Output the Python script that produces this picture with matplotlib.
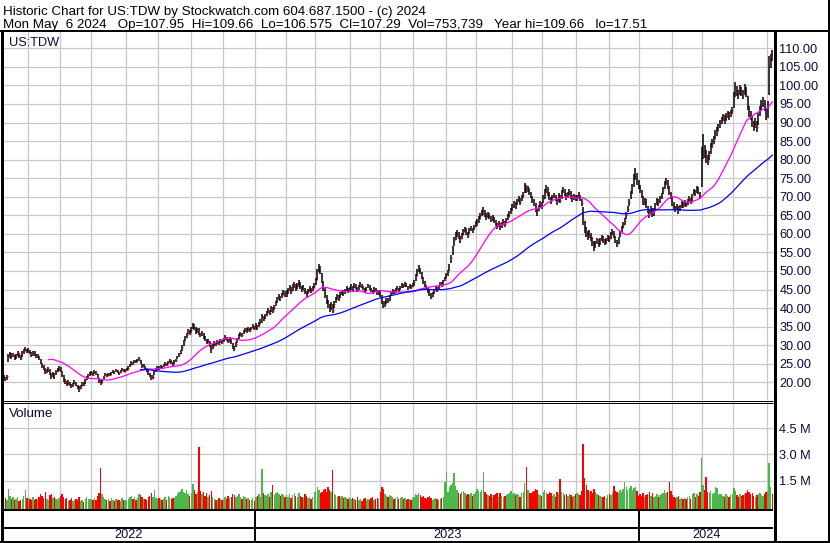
import matplotlib
matplotlib.use("Agg")
import matplotlib.pyplot as plt
from matplotlib.lines import Line2D
import numpy as np
import pandas as pd

plt.rcParams['font.family'] = ['Liberation Sans', 'DejaVu Sans']

# trading days shown: 9 May 2022 .. 6 May 2024 (NYSE holidays removed)
start_day = "2022-05-09"
end_day = "2024-05-06"
holidays = ["2022-05-30", "2022-06-20", "2022-07-04", "2022-09-05", "2022-11-24",
            "2022-12-26", "2023-01-02", "2023-01-16", "2023-02-20", "2023-04-07",
            "2023-05-29", "2023-06-19", "2023-07-04", "2023-09-04", "2023-11-23",
            "2023-12-25", "2024-01-01", "2024-01-15", "2024-02-19", "2024-03-29"]

# daily closes, one line per month
closes = [
    21.2, 20.8, 21.6, 26.8, 27.4, 26.9, 27.6, 26.5, 27.2, 27.8, 27.0, 26.6, 27.9, 28.4, 29.0, 28.1,
    28.6, 27.9, 27.3, 28.0, 27.5, 26.8, 27.2, 26.4, 25.1, 24.3, 23.8, 22.6, 23.1, 23.6, 22.4, 21.3, 22.5, 21.6, 22.8, 23.4, 23.9,
    23.1, 21.8, 20.6, 20.1, 19.5, 20.2, 19.3, 18.9, 19.6, 20.3, 19.1, 18.6, 18.2, 19.0, 19.8, 19.4, 20.5, 21.3, 21.9, 22.4,
    22.6, 22.1, 22.9, 22.4, 21.3, 20.2, 19.8, 20.6, 21.5, 22.0, 21.7, 22.3, 21.9, 22.5, 23.0, 22.6, 23.2, 22.8, 22.4, 23.1, 23.5, 22.9, 23.3,
    23.4, 23.9, 24.6, 25.3, 25.0, 25.8, 25.4, 26.0, 26.3, 25.2, 24.1, 24.5, 23.6, 23.2, 22.4, 21.8, 21.0, 21.4, 22.8, 23.5, 23.9,
    23.8, 24.2, 23.9, 24.6, 25.1, 24.7, 25.5, 25.9, 25.3, 24.8, 25.6, 26.0, 26.8, 27.5, 28.1, 29.6, 30.8, 31.9, 32.8, 33.6, 33.1,
    34.2, 35.4, 34.8, 33.5, 34.1, 33.2, 32.6, 33.4, 32.1, 31.5, 30.6, 31.2, 30.0, 29.1, 29.8, 30.7, 30.2, 31.1, 30.4, 31.3, 30.8,
    31.5, 32.2, 31.6, 30.9, 31.8, 30.6, 29.5, 29.2, 30.4, 31.6, 32.5, 33.1, 32.7, 33.6, 34.2, 33.8, 34.5, 33.9, 34.6, 35.1, 34.4,
    35.2, 34.6, 35.8, 36.5, 37.3, 37.0, 37.9, 38.6, 39.4, 38.8, 40.1, 39.3, 40.4, 41.6, 42.5, 43.1, 42.4, 43.6, 44.2, 43.5,
    44.0, 44.8, 45.5, 44.6, 45.9, 46.4, 45.2, 46.1, 46.9, 45.8, 44.9, 45.6, 44.3, 43.8, 44.6, 45.3, 44.7, 45.4, 46.2,
    47.5, 49.8, 51.2, 49.6, 47.3, 45.1, 43.2, 42.0, 40.6, 39.8, 40.9, 39.5, 41.2, 42.4, 43.1, 42.6, 43.8, 44.5, 43.9, 44.8, 45.3, 44.6, 45.2,
    45.8, 45.1, 46.2, 45.6, 44.9, 45.7, 46.4, 45.9, 45.2, 44.6, 45.3, 46.0, 45.4, 44.8, 44.2, 45.1, 44.5, 43.9, 44.4,
    43.2, 41.6, 40.4, 41.2, 42.3, 41.8, 43.1, 43.9, 44.6, 44.1, 44.9, 45.3, 44.7, 45.6, 46.2, 45.7, 46.5, 45.9, 45.4, 46.1, 45.6, 46.3,
    47.1, 48.6, 49.9, 50.8, 49.5, 48.2, 47.0, 46.1, 45.3, 44.6, 43.8, 43.1, 43.9, 44.7, 45.5, 44.9, 45.8, 46.6, 46.1, 47.2, 48.0,
    48.8, 49.6, 51.2, 53.5, 55.8, 58.4, 59.6, 60.3, 59.1, 58.5, 59.8, 60.6, 61.2, 60.4, 59.7, 60.9, 61.5, 60.8, 61.9, 62.6,
    63.2, 64.1, 64.9, 65.6, 66.2, 65.4, 64.6, 65.3, 64.8, 63.9, 64.5, 63.6, 62.8, 62.1, 62.9, 61.8, 62.5, 63.3, 62.6, 63.8, 64.6, 65.5, 66.3,
    67.2, 68.1, 67.6, 68.8, 69.4, 68.7, 69.9, 70.6, 72.8, 71.6, 72.1, 71.3, 70.2, 69.1, 68.2, 66.8, 66.1, 67.3, 68.2, 67.6,
    69.5, 71.2, 72.4, 71.0, 69.8, 68.9, 69.7, 70.4, 69.6, 68.7, 70.3, 69.1, 71.3, 71.9, 70.8, 69.9, 70.6, 71.4, 70.2, 69.3, 70.1, 69.5,
    69.8, 70.5, 69.2, 68.4, 64.1, 61.2, 60.3, 59.4, 60.2, 58.6, 57.8, 56.6, 57.5, 58.3, 57.1, 58.4, 59.0, 58.2, 57.6, 58.5, 59.1,
    58.6, 59.7, 60.5, 59.4, 58.1, 57.3, 58.6, 60.2, 61.5, 62.4, 63.5, 65.2, 66.8, 68.5, 70.9, 72.3, 74.8, 76.2, 74.1, 73.2,
    71.5, 70.2, 68.4, 69.1, 67.5, 66.2, 65.4, 66.8, 65.1, 66.3, 67.6, 68.9, 68.1, 69.6, 70.4, 71.8, 73.5, 74.2, 72.6, 71.3, 70.1,
    68.2, 67.1, 66.4, 67.5, 66.1, 67.3, 68.2, 67.4, 68.6, 67.9, 68.8, 69.5, 68.7, 70.2, 71.3, 70.6, 72.1, 71.4, 70.2, 80.5,
    82.6, 81.4, 80.3, 79.6, 81.2, 83.4, 84.1, 85.5, 86.9, 87.8, 88.6, 89.9, 90.8, 91.5, 90.6, 91.8, 92.4, 91.7, 92.6, 93.4,
    97.2, 99.1, 98.3, 97.5, 99.0, 98.4, 97.6, 99.2, 97.4, 94.1, 92.3, 91.5, 89.6, 89.1, 90.2, 88.7, 91.9, 93.5, 94.8, 95.6, 93.8, 91.6,
    94.6, 106.4, 107.9, 107.29,
]

highs = [
    21.9, 21.5, 22.0, 27.5, 28.1, 27.8, 28.0, 27.4, 27.7, 28.3, 27.9, 27.3, 28.3, 28.9, 29.6, 29.0,
    29.2, 28.7, 28.1, 28.4, 28.3, 27.6, 27.7, 27.2, 26.2, 25.3, 24.6, 23.9, 23.6, 24.2, 23.5, 22.5, 22.9, 22.6, 23.3, 23.9, 24.5,
    24.0, 23.0, 21.9, 20.9, 20.3, 20.6, 20.1, 19.6, 19.9, 20.7, 20.2, 19.4, 18.9, 19.3, 20.1, 20.0, 20.8, 21.6, 22.3, 22.8,
    23.0, 22.8, 23.3, 23.0, 22.3, 21.2, 20.5, 20.9, 21.8, 22.4, 22.2, 22.6, 22.4, 22.8, 23.4, 23.1, 23.5, 23.3, 22.9, 23.4, 23.9, 23.6, 23.7,
    23.9, 24.3, 25.0, 25.7, 25.6, 26.1, 26.0, 26.4, 26.7, 26.1, 25.0, 24.9, 24.4, 23.8, 23.3, 22.6, 21.9, 21.9, 23.1, 23.8, 24.3,
    24.3, 24.6, 24.5, 24.9, 25.5, 25.3, 25.8, 26.3, 26.0, 25.4, 25.9, 26.4, 27.1, 27.9, 28.6, 30.1, 31.4, 32.4, 33.4, 34.3, 34.0,
    34.8, 36.1, 35.7, 34.9, 34.6, 34.5, 33.4, 33.9, 33.3, 32.4, 31.6, 31.7, 31.1, 30.0, 30.3, 31.1, 30.9, 31.5, 31.2, 31.7, 31.5,
    31.9, 32.7, 32.3, 31.8, 32.2, 31.7, 30.5, 29.9, 30.8, 32.0, 32.9, 33.6, 33.3, 34.0, 34.6, 34.5, 34.9, 34.6, 35.0, 35.6, 35.2,
    35.9, 35.5, 36.2, 37.0, 38.4, 37.8, 38.3, 39.1, 39.9, 39.6, 40.6, 40.2, 40.9, 42.0, 43.1, 43.8, 43.3, 44.1, 44.8, 44.5,
    44.8, 45.4, 46.3, 45.7, 46.4, 47.1, 46.5, 46.7, 47.5, 47.0, 45.9, 46.1, 45.5, 44.6, 45.1, 45.9, 45.5, 45.9, 46.8,
    48.2, 50.6, 52.0, 51.3, 49.5, 47.4, 45.3, 43.6, 42.3, 41.2, 41.6, 41.1, 41.8, 43.0, 43.7, 43.4, 44.2, 45.0, 44.8, 45.2, 45.9, 45.5, 45.7,
    46.4, 46.0, 46.7, 46.5, 45.8, 46.1, 46.9, 46.6, 46.0, 45.4, 45.8, 46.5, 46.2, 45.5, 45.0, 45.6, 45.3, 44.8, 44.9,
    44.6, 43.4, 41.8, 41.9, 42.8, 42.6, 43.5, 44.4, 45.1, 44.8, 45.3, 45.9, 45.4, 46.0, 46.8, 46.4, 46.9, 46.7, 46.0, 46.5, 46.3, 46.8,
    47.5, 49.2, 50.5, 51.6, 50.9, 49.6, 48.4, 47.2, 46.1, 45.5, 44.8, 44.0, 44.4, 45.2, 45.9, 45.8, 46.2, 47.1, 46.9, 47.6, 48.5,
    49.4, 50.3, 51.8, 54.2, 56.6, 59.2, 60.4, 61.0, 60.5, 59.4, 60.3, 61.2, 61.9, 61.5, 60.6, 61.5, 62.2, 61.7, 62.5, 63.4,
    63.9, 64.8, 65.7, 66.4, 67.3, 66.5, 65.6, 65.9, 65.6, 64.9, 65.2, 64.6, 63.7, 63.0, 63.5, 62.9, 63.2, 63.9, 63.5, 64.4, 65.3, 66.2, 67.0,
    68.0, 68.9, 68.5, 69.5, 70.2, 69.6, 70.5, 71.4, 73.8, 73.2, 72.8, 72.3, 71.4, 70.3, 69.4, 68.2, 67.1, 67.9, 68.9, 68.5,
    70.4, 72.0, 73.1, 72.6, 71.2, 70.0, 70.4, 71.1, 70.5, 69.8, 70.9, 70.6, 71.9, 72.6, 72.0, 71.0, 71.2, 72.1, 71.5, 70.4, 70.8, 70.6,
    70.6, 71.3, 70.6, 69.5, 67.2, 63.5, 61.9, 60.8, 61.1, 60.3, 59.1, 58.0, 58.2, 59.0, 58.6, 58.9, 59.6, 59.3, 58.5, 59.0, 59.8,
    59.4, 60.4, 61.3, 60.9, 59.3, 58.4, 59.1, 60.8, 62.1, 63.2, 64.3, 66.0, 67.5, 69.3, 71.6, 73.4, 76.0, 77.8, 76.5, 74.6,
    73.3, 71.9, 70.1, 69.8, 69.3, 67.6, 66.5, 67.4, 66.9, 66.9, 68.2, 69.6, 69.4, 70.2, 71.1, 72.5, 74.3, 75.1, 74.4, 72.9, 71.4,
    70.0, 68.6, 67.5, 68.1, 67.4, 67.8, 68.9, 68.5, 69.0, 68.7, 69.3, 70.1, 69.6, 70.8, 72.0, 71.8, 72.8, 72.5, 71.3, 83.5,
    86.8, 83.9, 82.5, 81.3, 82.4, 84.5, 85.6, 86.4, 87.9, 88.7, 89.5, 90.6, 91.6, 92.3, 91.9, 92.5, 93.1, 92.8, 93.3, 94.2,
    98.1, 100.9, 99.8, 98.9, 100.2, 99.7, 98.8, 100.4, 99.6, 97.2, 94.5, 93.1, 91.8, 90.5, 91.1, 90.4, 92.6, 94.4, 96.1, 97.0, 96.2, 93.9,
    95.8, 107.8, 108.6, 109.66,
]

lows = [
    20.7, 20.3, 20.6, 25.4, 26.5, 26.3, 26.8, 26.1, 26.4, 27.0, 26.5, 26.1, 26.7, 27.6, 28.3, 27.8,
    28.0, 27.5, 26.9, 27.1, 27.2, 26.5, 26.6, 26.0, 24.8, 23.9, 23.3, 22.2, 22.5, 22.9, 22.1, 20.9, 21.4, 20.9, 22.0, 22.7, 23.1,
    22.8, 21.5, 20.2, 19.6, 19.1, 19.4, 19.0, 18.5, 18.8, 19.5, 18.9, 18.1, 17.51, 18.3, 19.1, 19.0, 19.6, 20.6, 21.2, 21.8,
    22.1, 21.8, 22.2, 22.1, 21.1, 19.8, 19.2, 19.9, 20.8, 21.6, 21.4, 21.8, 21.6, 22.0, 22.6, 22.3, 22.7, 22.5, 22.1, 22.6, 23.0, 22.7, 22.9,
    23.0, 23.3, 24.0, 24.7, 24.7, 25.1, 25.1, 25.5, 25.8, 25.0, 23.8, 24.0, 23.3, 22.8, 22.1, 21.5, 20.5, 20.8, 21.9, 22.9, 23.3,
    23.3, 23.6, 23.5, 24.0, 24.5, 24.3, 24.8, 25.3, 25.0, 24.4, 24.9, 25.6, 26.2, 26.9, 27.5, 28.4, 29.8, 31.0, 32.0, 32.9, 32.7,
    33.3, 34.3, 34.2, 33.1, 33.3, 32.7, 32.1, 32.5, 31.8, 31.0, 30.2, 30.5, 29.6, 28.0, 29.1, 29.9, 29.8, 30.3, 30.0, 30.6, 30.4,
    30.9, 31.5, 31.2, 30.5, 30.9, 30.3, 29.1, 28.5, 29.4, 30.7, 31.8, 32.4, 32.3, 32.9, 33.6, 33.4, 33.9, 33.5, 34.0, 34.6, 34.1,
    34.3, 34.0, 34.8, 35.7, 36.0, 36.4, 37.1, 37.8, 38.6, 38.2, 39.0, 38.7, 39.4, 40.6, 41.5, 42.2, 41.8, 42.6, 43.4, 42.9,
    42.9, 43.7, 44.5, 43.9, 44.7, 45.5, 44.6, 45.1, 45.8, 45.2, 44.3, 44.8, 43.9, 43.1, 43.7, 44.4, 44.0, 44.6, 45.3,
    46.1, 47.6, 49.7, 49.1, 46.8, 44.6, 42.7, 41.2, 40.0, 38.9, 39.6, 38.6, 40.1, 41.3, 42.2, 42.0, 42.8, 43.6, 43.3, 43.9, 44.5, 44.1, 44.4,
    45.0, 44.7, 45.3, 45.2, 44.4, 44.9, 45.6, 45.5, 44.8, 44.1, 44.5, 45.4, 45.0, 44.4, 43.7, 44.3, 44.2, 43.4, 43.6,
    42.9, 41.2, 39.9, 40.3, 41.1, 41.4, 42.0, 43.2, 43.9, 43.7, 44.1, 44.8, 44.4, 44.9, 45.5, 45.3, 45.8, 45.6, 45.0, 45.4, 45.2, 45.6,
    46.0, 47.3, 48.6, 49.8, 49.1, 47.8, 46.6, 45.7, 44.9, 44.1, 43.2, 42.5, 43.0, 43.9, 44.8, 44.4, 45.1, 45.9, 45.6, 46.3, 47.2,
    47.9, 48.7, 50.0, 52.1, 54.3, 56.6, 58.3, 59.2, 58.5, 57.6, 58.6, 59.8, 60.4, 59.8, 58.9, 59.9, 60.7, 60.2, 61.0, 61.8,
    62.2, 63.0, 63.9, 64.7, 65.0, 64.6, 63.8, 64.2, 64.0, 63.2, 63.5, 62.9, 62.0, 61.3, 61.8, 61.0, 61.6, 62.4, 61.9, 62.8, 63.7, 64.6, 65.4,
    66.1, 67.1, 66.8, 67.7, 68.5, 67.9, 68.9, 69.6, 70.9, 71.0, 71.2, 70.6, 69.6, 68.4, 67.4, 65.9, 64.9, 66.1, 67.2, 66.8,
    68.2, 69.4, 71.1, 70.3, 69.1, 68.0, 68.8, 69.6, 68.9, 67.9, 68.5, 68.3, 69.5, 71.0, 70.2, 69.0, 69.7, 70.5, 69.5, 68.6, 69.2, 68.8,
    68.9, 69.5, 68.8, 67.6, 62.5, 60.1, 59.2, 58.3, 59.0, 58.1, 56.7, 55.4, 56.2, 57.2, 56.5, 57.0, 58.1, 57.6, 56.9, 57.4, 58.2,
    57.8, 58.5, 59.6, 58.9, 57.6, 56.5, 57.4, 59.1, 60.5, 61.6, 62.5, 64.1, 65.9, 67.6, 69.4, 70.8, 72.6, 74.5, 73.3, 72.1,
    71.0, 69.7, 67.8, 67.9, 66.9, 65.5, 64.2, 65.3, 64.6, 64.9, 66.4, 67.8, 67.5, 68.3, 69.4, 70.7, 72.1, 73.2, 72.0, 70.6, 69.5,
    67.5, 66.6, 65.8, 66.3, 65.4, 66.2, 67.1, 66.9, 67.6, 67.3, 67.9, 68.7, 68.1, 68.9, 70.4, 70.1, 70.9, 70.8, 69.8, 72.5,
    80.1, 80.5, 79.2, 78.6, 79.8, 81.6, 83.2, 84.3, 85.6, 86.5, 87.6, 88.4, 89.7, 90.4, 89.6, 90.5, 91.3, 90.8, 91.5, 92.3,
    93.9, 96.8, 97.1, 96.4, 97.3, 97.2, 96.3, 97.5, 96.8, 93.5, 91.4, 90.6, 88.7, 87.8, 88.6, 87.5, 89.3, 91.8, 93.2, 94.1, 93.1, 90.8,
    91.2, 97.5, 104.8, 106.575,
]

# daily volume, millions of shares
volumes = [
    0.45, 0.52, 0.38, 1.05, 0.62, 0.48, 0.55, 0.41, 0.44, 0.58, 0.36, 0.40, 0.47, 0.63, 0.98, 0.49,
    0.51, 0.46, 0.42, 0.55, 0.39, 0.48, 0.43, 0.57, 0.71, 0.64, 0.52, 0.88, 0.47, 0.41, 0.66, 0.74, 0.53, 0.59, 0.45, 0.42, 0.50,
    0.62, 0.71, 0.58, 0.44, 0.49, 0.36, 0.40, 0.52, 0.33, 0.38, 0.45, 0.41, 0.56, 0.35, 0.42, 0.30, 0.48, 0.55, 0.47, 0.44,
    0.46, 0.39, 0.52, 0.41, 0.63, 0.82, 2.25, 0.71, 0.55, 0.48, 0.37, 0.44, 0.35, 0.51, 0.40, 0.34, 0.47, 0.39, 0.42, 0.36, 0.53, 0.41, 0.38,
    0.41, 0.48, 0.56, 0.62, 0.44, 0.58, 0.39, 0.51, 0.72, 0.66, 0.59, 0.43, 0.48, 0.41, 0.55, 0.63, 0.81, 0.57, 0.94, 0.52, 0.46,
    0.52, 0.44, 0.38, 0.47, 0.55, 0.42, 0.61, 0.58, 0.46, 0.53, 0.49, 0.65, 0.72, 0.84, 0.91, 1.05, 0.88, 0.79, 0.95, 0.74, 0.61,
    0.82, 1.32, 0.96, 0.74, 0.88, 3.40, 0.92, 0.71, 0.86, 0.65, 0.78, 0.55, 0.69, 0.91, 0.58, 0.47, 0.42, 0.39, 0.51, 0.44, 0.37,
    0.48, 0.55, 0.43, 0.61, 0.49, 0.58, 0.72, 0.66, 0.54, 0.62, 0.71, 0.59, 0.46, 0.63, 0.57, 0.44, 0.52, 0.38, 0.41, 0.49, 0.35,
    0.55, 0.62, 0.71, 0.58, 2.17, 0.81, 0.69, 0.64, 0.73, 0.58, 0.88, 1.25, 0.66, 0.79, 0.83, 0.72, 0.61, 0.75, 0.68, 0.59,
    0.66, 0.58, 0.72, 0.51, 0.69, 0.77, 0.62, 0.55, 0.81, 0.64, 0.57, 0.49, 0.71, 0.63, 0.52, 0.58, 0.46, 0.54, 0.85,
    0.92, 1.15, 0.98, 0.81, 0.87, 0.94, 1.02, 0.88, 1.12, 0.97, 0.83, 2.10, 0.76, 0.69, 0.58, 0.64, 0.55, 0.61, 0.49, 0.57, 0.52, 0.47, 0.56,
    0.48, 0.52, 0.44, 0.39, 0.56, 0.41, 0.47, 0.35, 0.43, 0.51, 0.38, 0.45, 0.40, 0.49, 0.57, 0.42, 0.46, 0.53, 0.44,
    0.85, 1.12, 1.04, 0.72, 0.64, 0.58, 0.69, 0.61, 0.55, 0.47, 0.52, 0.58, 0.44, 0.49, 0.56, 0.43, 0.51, 0.39, 0.45, 0.48, 0.37, 0.52,
    0.58, 0.72, 0.66, 0.81, 0.69, 0.55, 0.62, 0.51, 0.47, 0.56, 0.63, 0.49, 0.42, 0.48, 0.53, 0.46, 0.39, 0.44, 0.51, 0.58, 1.40,
    2.02, 0.88, 1.15, 1.24, 1.36, 1.92, 1.18, 0.95, 0.82, 0.74, 0.86, 0.91, 0.78, 0.66, 0.72, 0.69, 0.81, 0.62, 0.75, 0.88,
    1.05, 0.92, 0.84, 0.97, 2.00, 0.88, 0.76, 0.69, 0.62, 0.71, 0.58, 0.66, 0.74, 0.81, 0.57, 0.79, 0.64, 0.55, 0.61, 0.69, 0.74, 0.82, 0.91,
    0.72, 0.81, 0.66, 0.74, 0.69, 0.58, 0.77, 0.85, 1.35, 2.30, 0.94, 0.81, 0.78, 0.86, 0.92, 1.05, 0.97, 0.74, 0.68, 0.63,
    0.88, 0.95, 0.81, 0.72, 0.84, 0.77, 0.65, 0.71, 0.59, 0.83, 0.74, 1.62, 0.86, 0.79, 0.69, 0.75, 0.62, 0.71, 0.66, 0.58, 0.64, 0.73,
    0.82, 0.75, 0.69, 0.91, 3.60, 1.68, 1.24, 0.97, 0.86, 0.92, 0.78, 1.05, 0.84, 0.72, 0.69, 0.63, 0.58, 0.55, 0.61, 0.52, 0.66,
    0.74, 0.68, 0.81, 1.20, 0.92, 0.85, 0.79, 0.95, 0.88, 1.02, 1.45, 1.12, 0.97, 1.06, 1.18, 0.99, 1.08, 1.15, 0.91, 0.62,
    0.72, 0.65, 0.81, 0.56, 0.69, 0.74, 0.88, 0.61, 0.79, 0.55, 0.63, 0.71, 0.58, 0.66, 0.74, 0.82, 0.95, 0.77, 0.86, 1.40, 0.92,
    0.66, 0.58, 0.49, 0.55, 0.62, 0.47, 0.53, 0.44, 0.51, 0.48, 0.56, 0.62, 0.45, 0.71, 0.82, 0.59, 0.76, 0.64, 0.88, 2.80,
    1.25, 0.98, 1.70, 0.86, 0.79, 0.92, 0.74, 0.81, 1.15, 1.08, 0.69, 0.76, 0.72, 0.64, 0.58, 0.71, 0.63, 0.55, 0.68, 0.74,
    1.10, 0.92, 0.66, 0.58, 0.72, 0.61, 0.69, 0.75, 0.82, 0.95, 0.88, 0.71, 0.79, 0.64, 0.57, 0.69, 0.76, 0.82, 0.68, 0.61, 0.72, 0.85,
    0.92, 2.50, 1.15, 0.754,
]

price_ticks = list(range(20, 111, 5))
volume_ticks = [1.5, 3.0, 4.5]
volume_labels = ["1.5 M", "3.0 M", "4.5 M"]

header_1 = "Historic Chart for US:TDW by Stockwatch.com 604.687.1500 - (c) 2024"
header_2 = ("Mon May  6 2024   Op=107.95  Hi=109.66  Lo=106.575  Cl=107.29  "
            "Vol=753,739   Year hi=109.66   lo=17.51")

# colours
BAR = "#000000"
TICK = "#ff0000"
MA_SHORT = "#ff00ff"
MA_LONG = "#0000ff"
UP = "#4cb84c"
DOWN = "#ff0000"
FLAT = "#a0a0a0"
GRID = "#c8c8c8"
TXT = "#0a0a3c"

# dates
days = pd.bdate_range(start_day, end_day)
days = days[~days.isin(pd.to_datetime(holidays))]
n = len(closes)
days = days[:n]
x = np.arange(n)

W, H = 830, 543
fig = plt.figure(figsize=(W / 100, H / 100), dpi=100)


def fx(px):
    return px / W


def fy(py):
    return 1 - py / H


def box(x0, y0, x1, y1):
    return [fx(x0), fy(y1), fx(x1) - fx(x0), fy(y0) - fy(y1)]


def hline(y, x0, x1, px=1.0):
    fig.add_artist(Line2D([fx(x0), fx(x1)], [fy(y), fy(y)], color="black",
                          lw=px * 0.72, transform=fig.transFigure, solid_capstyle="butt"))


def vline(xp, y0, y1, px=1.0):
    fig.add_artist(Line2D([fx(xp), fx(xp)], [fy(y0), fy(y1)], color="black",
                          lw=px * 0.72, transform=fig.transFigure, solid_capstyle="butt"))


ax_p = fig.add_axes(box(3, 32, 773, 400))
ax_v = fig.add_axes(box(3, 402, 773, 509))
ax_d = fig.add_axes(box(3, 509, 773, 541))

# month grid
month_pos = [i - 0.5 for i in range(1, n) if days[i].month != days[i - 1].month]
year_pos = [i - 0.5 for i in range(1, n) if days[i].year != days[i - 1].year]

for ax in (ax_p, ax_v, ax_d):
    ax.set_xlim(-0.5, n - 0.5)
    for s in ax.spines.values():
        s.set_visible(False)
    ax.set_facecolor("none")

for ax in (ax_p, ax_v):
    ax.set_xticks(month_pos)
    ax.grid(True, color=GRID, lw=0.9)
    ax.set_axisbelow(True)
    ax.tick_params(axis="x", length=0, labelbottom=False)
    ax.yaxis.tick_right()
    ax.tick_params(axis="y", length=0, pad=4.5, labelsize=9.2, labelcolor=TXT)

# price bars
ax_p.vlines(x, lows, highs, color=BAR, lw=1.1, zorder=2)
ax_p.hlines(closes, x + 0.1, x + 0.6, color=TICK, lw=0.9, zorder=3)

c = pd.Series(closes)
ax_p.plot(x, c.rolling(30).mean(), color=MA_SHORT, lw=0.9, zorder=4)
ax_p.plot(x, c.rolling(90).mean(), color=MA_LONG, lw=0.9, zorder=4)

ax_p.set_ylim(15.23, 114.4)
ax_p.set_yticks(price_ticks)
ax_p.set_yticklabels([f"{v:.2f}" for v in price_ticks])

# volume
diff = np.diff(np.array(closes), prepend=np.nan)
vcol = [UP if d > 0 else DOWN if d < 0 else FLAT for d in diff]
vbase = -0.12
ax_v.bar(x, np.array(volumes) - vbase, bottom=vbase, width=0.92, color=vcol, lw=0, zorder=2)
ax_v.set_ylim(vbase, 6.0)
ax_v.set_yticks(volume_ticks)
ax_v.set_yticklabels(volume_labels)

# date strip
ax_d.set_ylim(0, 1)
ax_d.set_xticks([])
ax_d.set_yticks([])
ax_d.vlines(year_pos, 0, 1, color="black", lw=1.4)
bounds = [-0.5] + year_pos + [n - 0.5]
for k, yr in enumerate(sorted(set(d.year for d in days))):
    ax_d.text((bounds[k] + bounds[k + 1]) / 2, 0.08, str(yr), ha="center", va="baseline",
              fontsize=9.2, color=TXT)

# frame lines
hline(31, 0, W, 2)
vline(1.5, 31, H, 3)
vline(828.5, 0, H, 2)
vline(774.5, 31, H, 3)
hline(400.5, 2, 773)
hline(402.5, 2, 773)
hline(509.5, 2, 773, 2)
hline(527.5, 2, 773, 2)
hline(541.5, 0, W, 2)

# texts
fig.text(fx(3), fy(15), header_1, fontsize=9.6, color="black", va="baseline")
fig.text(fx(3), fy(28), header_2, fontsize=9.6, color="black", va="baseline")
fig.text(fx(9), fy(46), "US:TDW", fontsize=9.2, color=TXT, va="baseline")
fig.text(fx(9), fy(417), "Volume", fontsize=9.6, color=TXT, va="baseline")

fig.savefig("out.png", dpi=100, facecolor="white")
